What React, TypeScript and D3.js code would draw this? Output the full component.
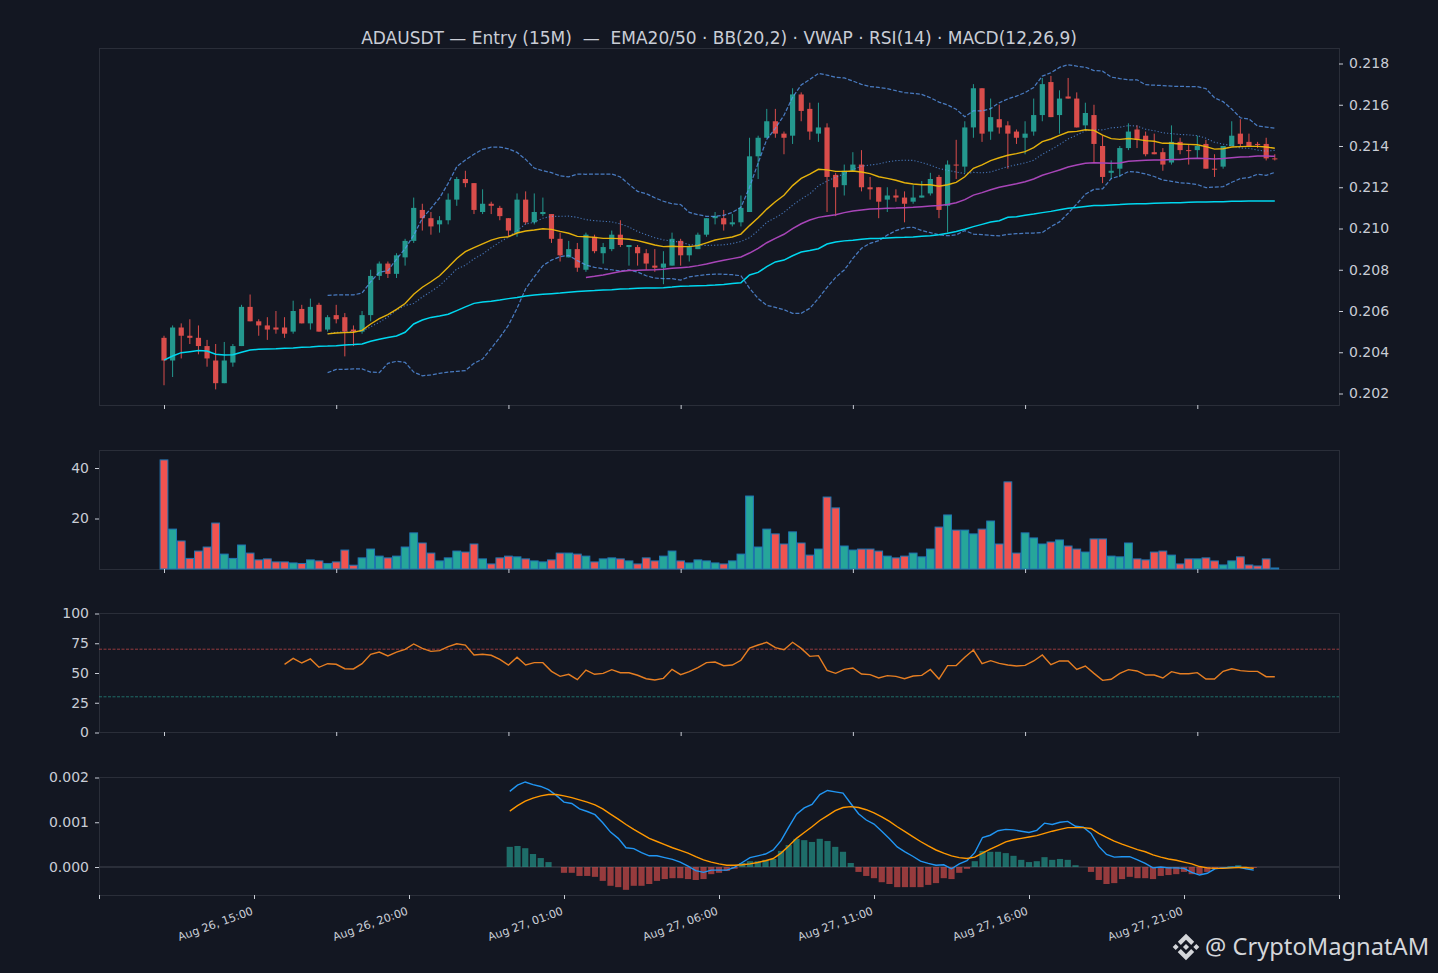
import { useEffect, useRef } from "react"
import * as d3 from "d3"

const tick = 1e-4

// OHLC in 0.0001 price ticks
const opens = [2047,2036,2052,2048,2047,2043,2036,2025,2035,2043,2062,2055,2053,2052,2052,2050,2061,2054,2063,2051,2058,2057,2051,2050,2058,2077,2083,2078,2086,2094,2109,2105,2102,2104,2114,2124,2122,2108,2112,2110,2105,2098,2114,2103,2107,2107,2095,2086,2090,2080,2096,2088,2090,2097,2091,2091,2088,2082,2081,2082,2094,2087,2090,2097,2105,2105,2102,2103,2108,2135,2144,2152,2146,2145,2165,2158,2146,2149,2126,2121,2128,2131,2120,2120,2114,2116,2115,2113,2115,2117,2125,2111,2131,2130,2149,2168,2147,2153,2150,2147,2144,2147,2155,2171,2155,2164,2163,2150,2155,2140,2127,2129,2139,2148,2145,2137,2137,2132,2142,2138,2138,2141,2129,2130,2140,2146,2142,2141,2141,2134]
const closes = [2036,2052,2048,2047,2043,2037,2025,2036,2043,2062,2055,2053,2051,2051,2049,2060,2054,2062,2050,2057,2056,2050,2050,2058,2077,2083,2078,2087,2094,2110,2105,2101,2104,2114,2124,2122,2109,2112,2111,2106,2099,2114,2103,2108,2108,2095,2087,2090,2081,2097,2089,2091,2097,2092,2092,2088,2083,2081,2083,2095,2087,2091,2097,2105,2106,2102,2103,2110,2135,2144,2152,2146,2144,2165,2157,2147,2149,2125,2120,2128,2131,2120,2119,2113,2116,2115,2112,2115,2116,2124,2109,2131,2131,2149,2168,2146,2154,2149,2146,2144,2146,2155,2170,2154,2163,2163,2149,2156,2141,2125,2128,2139,2147,2143,2136,2136,2131,2142,2138,2138,2140,2129,2129,2140,2145,2141,2140,2141,2134,2134]
const highs = [2048,2053,2054,2056,2053,2046,2044,2045,2044,2063,2068,2056,2057,2060,2057,2065,2063,2066,2064,2058,2063,2059,2053,2060,2080,2084,2084,2088,2095,2115,2112,2108,2106,2117,2125,2128,2122,2119,2113,2111,2105,2117,2118,2117,2115,2107,2098,2094,2093,2098,2097,2093,2099,2104,2092,2092,2090,2090,2089,2098,2095,2092,2098,2105,2108,2109,2107,2116,2144,2145,2158,2158,2147,2168,2166,2161,2161,2151,2127,2131,2137,2138,2125,2120,2120,2119,2118,2121,2123,2127,2126,2133,2143,2152,2170,2168,2163,2160,2152,2148,2152,2163,2173,2174,2167,2173,2166,2161,2160,2145,2133,2140,2151,2150,2147,2146,2139,2150,2144,2141,2145,2143,2136,2140,2152,2153,2146,2142,2144,2136]
const lows = [2024,2028,2037,2044,2039,2033,2022,2025,2033,2043,2055,2048,2046,2049,2047,2049,2054,2051,2050,2050,2054,2038,2043,2049,2055,2075,2076,2076,2082,2093,2099,2097,2098,2102,2111,2120,2107,2107,2107,2104,2096,2096,2102,2102,2106,2093,2084,2086,2079,2079,2088,2083,2089,2091,2082,2082,2080,2079,2073,2082,2082,2084,2090,2096,2102,2099,2101,2101,2108,2124,2144,2144,2136,2141,2152,2143,2142,2108,2106,2116,2128,2118,2114,2105,2108,2113,2103,2112,2115,2116,2105,2098,2124,2127,2144,2142,2143,2146,2129,2141,2136,2145,2152,2154,2146,2163,2149,2148,2132,2122,2124,2125,2138,2139,2135,2136,2128,2131,2136,2131,2134,2129,2125,2129,2140,2140,2140,2139,2133,2133]

const vwap = [2036.2,2038.2,2039.8,2040.3,2040.8,2040.6,2039,2038.7,2038.8,2040,2041.1,2041.4,2041.6,2041.7,2041.9,2042.1,2042.4,2042.5,2042.9,2043,2043.2,2043.5,2043.7,2044,2045.3,2046.3,2047.1,2047.9,2049.7,2053.7,2055.6,2056.9,2057.6,2058.4,2060.2,2062,2063.7,2064.4,2064.7,2065.3,2066,2066.6,2067.3,2067.8,2068.1,2068.4,2068.7,2069.1,2069.4,2069.7,2069.9,2070.2,2070.3,2070.7,2070.8,2071,2071.2,2071.2,2071.3,2071.6,2072,2072.1,2072.3,2072.4,2072.6,2072.9,2073.3,2073.7,2077.5,2078.7,2081.5,2083.8,2084.7,2086.8,2088.6,2089.3,2090.2,2092.5,2093.5,2094,2094.3,2094.8,2095.1,2095.2,2095.4,2095.6,2095.7,2095.9,2096.2,2096.5,2097,2097.7,2098.5,2099.6,2100.9,2102,2103.1,2103.8,2105.4,2105.7,2106.4,2107,2107.7,2108.3,2109.1,2109.8,2110.2,2110.7,2111.1,2111.2,2111.4,2111.6,2111.9,2112,2112,2112.2,2112.4,2112.5,2112.5,2112.7,2112.8,2112.8,2113,2113,2113.2,2113.2,2113.3,2113.3,2113.3,2113.3]

// these start at candle 19
const ema20 = [2048.9,2049.3,2049.5,2049.7,2050.6,2053.7,2056.3,2058.2,2060.8,2063.6,2068.1,2071.5,2074.2,2077.1,2081.2,2085.5,2088.8,2090.7,2092.6,2094.4,2095.6,2096,2097.8,2098.8,2099.3,2099.9,2099.6,2098.6,2097.7,2096.2,2096,2095.7,2095.2,2095.2,2095.1,2094.8,2094.1,2093.1,2092,2091.2,2091.4,2091.2,2091.2,2091.7,2093,2094.4,2095.2,2095.9,2097.3,2101.4,2105.2,2109.4,2113,2116.1,2120.8,2124.3,2126.4,2128.7,2128.4,2127.7,2127.7,2127.9,2127.4,2126.6,2125.1,2124.3,2123.4,2122.2,2121.6,2121.2,2121.2,2120.5,2121.2,2122.4,2125.1,2129.2,2130.8,2132.9,2134.3,2135.5,2136.3,2137.3,2139.2,2142.1,2143.4,2145.2,2146.8,2147.1,2147.9,2147.6,2145.3,2143.6,2143.2,2143.6,2143.2,2142.6,2142.3,2141.3,2141.3,2141,2140.8,2140.6,2139.7,2138.5,2138.7,2139.5,2139.7,2139.8,2139.8,2139.5,2138.9]
const bbUpper = [2067.6,2067.8,2067.8,2067.8,2068.7,2074.2,2078.8,2079.6,2085.1,2090.2,2096.8,2104.9,2109.8,2114.8,2121.9,2130,2133.2,2136,2138.4,2139.4,2139.5,2138.6,2136.9,2133.5,2129.3,2128,2127.1,2125.5,2125,2126.4,2126.3,2126.4,2126.4,2126.4,2125,2121.4,2118,2116.9,2114.9,2113.2,2112,2111.6,2107.8,2106.7,2105.9,2105.9,2106.4,2107.8,2110.3,2120,2131.8,2143.2,2148.6,2154.9,2163.6,2169.6,2172.3,2175.2,2174.4,2173.3,2173,2171.5,2169.9,2168.8,2168.4,2167.8,2166.8,2165.9,2165.5,2165,2163.4,2161.3,2159.9,2157.8,2154.2,2157.1,2157,2158.1,2161,2162.8,2164.2,2165.9,2168.4,2173.9,2175.5,2178.1,2179.4,2178.7,2178.2,2176.6,2176.3,2173.4,2172.7,2172.1,2172.1,2169.7,2169.5,2169.3,2169,2168.9,2168.8,2168.8,2167.8,2163.4,2161.5,2157.9,2153.7,2153.1,2149.7,2149.2,2148.6]
const bbMid = [2048.9,2049.7,2049.8,2049.9,2050.3,2052.3,2054.5,2057.1,2060.4,2062.7,2063.6,2066.8,2069.4,2072.3,2076.2,2080.4,2082.2,2085.3,2087.6,2090.7,2093.4,2095.9,2099,2102.2,2103,2105,2105.9,2105.9,2106,2105.4,2104.3,2103.8,2103.5,2103.2,2102.2,2100.7,2098.5,2097,2095.5,2094.5,2093.9,2093.3,2092.2,2091.9,2091.8,2091.9,2092.1,2092.7,2093.7,2095.5,2099,2103,2105.2,2107.8,2111.3,2114.3,2116.8,2120.7,2123,2124.8,2126.5,2128.5,2130.2,2130.8,2131.3,2132.3,2132.9,2133.1,2133,2132,2130.7,2129.1,2128.2,2127.4,2126.6,2127.2,2127,2127.4,2128.7,2130,2130.9,2131.8,2133.1,2136,2138.2,2140.7,2143.4,2145.3,2147.4,2147.8,2147.8,2148.8,2149.1,2149.9,2149.7,2148.1,2147.4,2146.4,2146,2145.6,2145.4,2145,2143.8,2141.8,2140.9,2140.2,2139,2138.9,2138,2137.5,2137.9]
const bbLower = [2030.1,2031.7,2031.7,2031.9,2031.9,2030.4,2030.1,2034.6,2035.6,2035.1,2030.4,2028.6,2029,2029.8,2030.4,2030.7,2031.1,2034.6,2036.7,2041.9,2047.2,2053.1,2061.3,2070.8,2076.6,2082,2084.7,2086.3,2087,2084.4,2082.3,2081.2,2080.5,2080,2079.4,2079.9,2078.9,2077.1,2076,2075.7,2075.7,2075,2076.6,2077.1,2077.6,2077.9,2077.8,2077.6,2077.1,2071,2066.1,2062.7,2061.8,2060.6,2058.9,2058.9,2061.3,2066.1,2071.5,2076.3,2079.9,2085.5,2090.4,2092.8,2094.1,2096.8,2099,2100.3,2100.6,2099,2098,2096.9,2096.5,2096.9,2099,2097.3,2097,2096.7,2096.4,2097.2,2097.5,2097.7,2097.8,2098,2100.9,2103.2,2107.4,2111.9,2116.6,2119,2119.2,2124.2,2125.5,2127.6,2127.3,2126.5,2125.2,2123.5,2122.9,2122.2,2121.9,2121.3,2119.8,2120.1,2120.3,2122.4,2124.2,2124.7,2126.3,2125.8,2127.2]
const overlayStart = 19

// starts at candle 49
const ema50 = [2076.3,2076.8,2077.5,2078.3,2079.1,2079.6,2079.7,2079.9,2080,2080.2,2080.7,2081,2081.3,2082,2082.8,2083.8,2084.6,2085.4,2086.2,2088.1,2090.4,2093.1,2095.2,2097.2,2099.9,2102.3,2104.1,2105.4,2106.1,2106.7,2107.7,2108.5,2109,2109.4,2109.6,2109.8,2109.9,2110.1,2110.3,2110.6,2110.9,2111.1,2111.6,2112.5,2114,2116.2,2117.4,2118.8,2120,2120.9,2121.7,2122.7,2124,2125.8,2127.1,2128.4,2129.8,2130.8,2131.6,2131.9,2131.8,2131.6,2131.8,2132.6,2132.9,2133.1,2133.2,2133.2,2133.4,2133.5,2133.9,2134,2133.9,2133.7,2133.9,2134.3,2134.7,2134.8,2135.1,2135.1,2135]
const ema50Start = 49

const volumes = [43.2,15.8,11.1,4.2,7.1,8.7,18.2,5.9,4.2,9.5,6.3,3.6,4,2.8,2.8,2.4,2.2,3.6,3.2,2.2,2.8,7.5,1.5,4.4,7.9,5.1,4.4,5.1,8.7,14.3,10.3,6.3,3.2,4.4,7.1,6.7,9.9,4,2,4.4,5.1,4.8,4,3.2,2.8,3.6,6.3,6.3,5.9,5.1,2.8,4,4.4,4,3.2,2,4.4,3.2,5.1,7.1,3.2,2.4,3.6,3.2,2.4,2,3.2,5.9,28.9,8.7,15.8,13.9,9.9,14.7,10.3,5.5,7.9,28.5,24.2,9.1,7.5,7.9,7.9,7.1,5.1,4.4,5.1,6.3,4.8,7.9,16.6,21.4,15.4,15.4,13.9,15.8,19,9.9,34.5,6.3,14.3,12.3,9.9,10.7,11.5,9.1,7.9,6.7,11.9,11.9,5.1,4.8,10.3,4,3.6,6.7,7.1,5.5,2,4,4,4.4,3.2,1.6,3.2,4.8,1.6,1.2,4,0.4]

// starts at candle 14
const rsi = [57.3,62.3,58.4,61.8,54.8,57.8,57.3,53.6,53.4,57.8,65.7,67.6,64.3,67.6,69.9,74.4,70.7,68.2,68.8,72.1,74.6,73.5,65.1,65.7,64.9,61.5,56.7,63.2,56.7,58.7,58.7,51.4,47.2,48.9,44.4,52.5,48.9,49.7,52.8,50.2,50.2,48.1,45.2,44.1,45.5,53.1,48.6,51.1,54.5,58.7,59.2,56.1,56.7,60.7,71,73.5,75.8,71.3,69.6,75.8,70.7,64,64.6,52.2,49.7,53,54.2,49.2,48.6,45.8,47.8,47.2,45.2,47.5,48,53,44.9,56.2,56.2,63.2,69.3,57.8,60.4,58.1,56.7,55.9,56.4,60.1,65.1,57,60.1,60.1,53,55.9,49.7,43.8,44.7,49.7,52.8,51.7,48.3,48.3,45.8,51.1,49.4,49.4,50.3,44.9,44.9,51.4,53.6,52,51.4,51.4,46.9,46.9]
const rsiStart = 14
const rsiLevels = [70, 30]

// MACD values in 0.0001, all start at candle 33
const macdLine = [16.9,18.3,19,18.4,18,17.3,16,14.5,14.2,13,12.4,11.7,9.9,7.8,6.4,4.3,4.1,3.2,2.5,2.5,2.1,1.7,1.1,0.2,-0.8,-1.2,-0.7,-0.7,-0.7,-0.1,1,2.1,2.5,2.9,3.8,5.9,8.9,11.8,13.2,14,16.2,17.1,16.8,16.5,14.2,11.9,10.5,9.6,8,6.3,4.5,3.4,2.4,1.3,0.8,0.4,0.5,-0.4,0.7,1.4,3.2,6.6,7.1,8.1,8.4,8.3,8,7.7,8.2,9.8,9.5,10,10.2,9.1,8.9,7.5,4.6,2.8,2.2,2.3,2.3,1.6,0.8,-0.2,0,-0.2,-0.2,-0.3,-1.2,-1.8,-1.4,-0.4,-0.2,-0.1,0,-0.4,-0.7]
const macdSignal = [12.5,13.7,14.7,15.4,15.9,16.2,16.2,15.9,15.5,15,14.5,13.9,13,11.8,10.7,9.5,8.4,7.4,6.4,5.7,5,4.3,3.7,3.1,2.3,1.6,1.1,0.7,0.4,0.4,0.5,0.7,1,1.4,1.9,3.1,4.7,6.4,7.7,9,10.4,11.5,12.6,13.3,13.5,13.3,12.8,12.1,11.2,10.2,9,7.9,6.8,5.7,4.7,3.8,3.1,2.5,2.1,1.9,2.2,3.1,4,4.8,5.6,6.1,6.4,6.7,7,7.5,8,8.4,8.8,8.8,8.8,8.6,7.5,6.6,5.8,5.1,4.5,3.9,3.4,2.7,2.2,1.8,1.5,1.1,0.7,0.1,-0.2,-0.3,-0.3,-0.2,-0.1,-0.1,-0.3]
const macdHist = [4.5,4.7,4.2,2.9,2,1.1,0,-1.3,-1.3,-2,-2,-2.2,-3.1,-4.2,-4.5,-5.1,-4.2,-4.2,-3.8,-3.1,-2.7,-2.5,-2.5,-2.7,-2.9,-2.7,-1.6,-1.3,-0.9,-0.4,0.9,1.3,1.3,1.6,1.8,3.6,4.9,6.3,6,5.6,6.3,5.8,4.5,3.4,0.9,-1.1,-2,-2.5,-3.4,-3.8,-4.5,-4.5,-4.5,-4.5,-4,-3.6,-2.5,-2.7,-1.3,-0.4,1.3,3.6,3.4,3.4,3.1,2.5,1.6,1.1,1.3,2.2,1.6,1.8,1.6,0.4,0,-1.1,-2.9,-3.8,-3.6,-2.7,-2.2,-2.5,-2.5,-2.7,-2,-1.8,-1.6,-1.1,-1.6,-1.6,-1.1,-0.4,-0.2,0.15,0.4,0,-0.2]
const macdStart = 33

const tickIndexes = [0, 20, 40, 60, 80, 100, 120]
const tickLabels = ["Aug 26, 15:00", "Aug 26, 20:00", "Aug 27, 01:00", "Aug 27, 06:00", "Aug 27, 11:00", "Aug 27, 16:00", "Aug 27, 21:00"]
const priceTicks = [0.202, 0.204, 0.206, 0.208, 0.21, 0.212, 0.214, 0.216, 0.218]
const volumeTicks = [20, 40]
const rsiTicks = [0, 25, 50, 75, 100]
const macdTicks = [0, 0.001, 0.002]

const BG = "#131722"
const GRID = "#2a2e39"
const TEXT = "#c9cdd6"
const GREEN = "#26a69a"
const RED = "#ef5350"
const FONT = "'DejaVu Sans', sans-serif"

// panels are laid out on the figure, candle scale is shared except for the MACD pane
const LEFT = 99
const RIGHT = 1339
const x = d3.scaleLinear().domain([0, 120]).range([164, 1197.3])
const macdX = d3.scaleLinear().domain([-20, 140]).range([LEFT, RIGHT])

const priceY = d3.scaleLinear().domain([0.202, 0.218]).range([393.5, 63.5])
const volumeY = d3.scaleLinear().domain([0, 40]).range([569, 468])
const rsiY = d3.scaleLinear().domain([0, 100]).range([732.5, 613.5])
const macdY = d3.scaleLinear().domain([0, 0.002]).range([867, 777.5])

const panels = [
  { top: 48, bottom: 405 },
  { top: 450, bottom: 569 },
  { top: 613, bottom: 732 },
  { top: 777, bottom: 895 },
]

const seriesLine = (values: number[], start: number, y: (v: number) => number, xs = x) =>
  d3.line<number>()
    .x((_, i) => xs(i + start))
    .y((d) => y(d))(values) || ""

const toPrice = (v: number) => priceY(v * tick)
const toMacd = (v: number) => macdY(v * tick)

function YAxis({ scale, ticks, format, at, right }: { scale: any; ticks: number[]; format: string; at: number; right?: boolean }) {
  const ref = useRef<SVGGElement>(null)
  useEffect(() => {
    const axis = (right ? d3.axisRight(scale) : d3.axisLeft(scale))
      .tickValues(ticks)
      .tickSize(4)
      .tickPadding(6)
      .tickFormat(d3.format(format) as any)
    const g = d3.select(ref.current!)
    g.call(axis as any)
    g.select(".domain").remove()
    g.selectAll("line").attr("stroke", TEXT)
    g.selectAll("text").attr("fill", TEXT).style("font-family", FONT).style("font-size", "14px")
  }, [])
  return <g ref={ref} transform={`translate(${at},0)`} />
}

function XTicks({ scale, values, y }: { scale: any; values: number[]; y: number }) {
  const ref = useRef<SVGGElement>(null)
  useEffect(() => {
    const g = d3.select(ref.current!)
    g.call(d3.axisBottom(scale).tickValues(values).tickSize(4).tickFormat(() => "") as any)
    g.select(".domain").remove()
    g.selectAll("line").attr("stroke", TEXT)
  }, [])
  return <g ref={ref} transform={`translate(0,${y})`} />
}

export default function App() {
  return (
    <svg width={1438} height={973} style={{ position: "absolute", left: 0, top: 0, background: BG }}>
      <rect width={1438} height={973} fill={BG} />

      <text x={719} y={43.5} textAnchor="middle" fill={TEXT} fontFamily={FONT} fontSize={17} style={{ whiteSpace: "pre" }}>
        {"ADAUSDT — Entry (15M)  —  EMA20/50 · BB(20,2) · VWAP · RSI(14) · MACD(12,26,9)"}
      </text>

      {panels.map((p) => (
        <rect key={p.top} x={LEFT + 0.5} y={p.top + 0.5} width={RIGHT - LEFT} height={p.bottom - p.top} fill={BG} stroke={GRID} />
      ))}

      {/* candles */}
      <g>
        {opens.map((o, i) => {
          const color = closes[i] > o ? GREEN : RED
          const top = toPrice(Math.max(o, closes[i]))
          const bottom = toPrice(Math.min(o, closes[i]))
          return (
            <g key={i} opacity={0.9}>
              <line x1={x(i)} x2={x(i)} y1={toPrice(highs[i])} y2={toPrice(lows[i])} stroke={color} strokeWidth={1} />
              <rect x={x(i) - 2.6} width={5.2} y={top} height={Math.max(bottom - top, 1)} fill={color} />
            </g>
          )
        })}
      </g>

      <path d={seriesLine(bbUpper, overlayStart, toPrice)} fill="none" stroke="#5b9cf5" strokeOpacity={0.75} strokeWidth={1.25} strokeDasharray="4 1.8" />
      <path d={seriesLine(bbLower, overlayStart, toPrice)} fill="none" stroke="#5b9cf5" strokeOpacity={0.75} strokeWidth={1.25} strokeDasharray="4 1.8" />
      <path d={seriesLine(bbMid, overlayStart, toPrice)} fill="none" stroke="#5b9cf5" strokeOpacity={0.7} strokeWidth={1.1} strokeDasharray="1.2 2" />
      <path d={seriesLine(ema20, overlayStart, toPrice)} fill="none" stroke="#f0b90b" strokeOpacity={0.95} strokeWidth={1.4} />
      <path d={seriesLine(ema50, ema50Start, toPrice)} fill="none" stroke="#a845b8" strokeWidth={1.5} />
      <path d={seriesLine(vwap, 0, toPrice)} fill="none" stroke="#00d8f0" strokeWidth={1.5} />

      {/* volume */}
      <g>
        {volumes.map((v, i) => (
          <rect
            key={i}
            x={x(i) - 3.9}
            width={7.8}
            y={volumeY(v)}
            height={volumeY(0) - volumeY(v)}
            fill={closes[i] > opens[i] ? GREEN : RED}
            stroke="#1f77b4"
            strokeWidth={1}
          />
        ))}
      </g>

      {/* RSI */}
      {rsiLevels.map((level) => (
        <line
          key={level}
          x1={LEFT}
          x2={RIGHT}
          y1={rsiY(level)}
          y2={rsiY(level)}
          stroke={level === 70 ? RED : GREEN}
          strokeOpacity={0.6}
          strokeWidth={1}
          strokeDasharray="3 1.5"
        />
      ))}
      <path d={seriesLine(rsi, rsiStart, rsiY)} fill="none" stroke="#e67e22" strokeWidth={1.4} />

      {/* MACD */}
      <line x1={LEFT} x2={RIGHT} y1={macdY(0)} y2={macdY(0)} stroke="#434651" strokeWidth={1} />
      <g>
        {macdHist.map((v, i) => {
          const y0 = toMacd(0)
          const y1 = toMacd(v)
          return (
            <rect
              key={i}
              x={macdX(i + macdStart) - 3.1}
              width={6.2}
              y={Math.min(y0, y1)}
              height={Math.abs(y1 - y0)}
              fill={v >= 0 ? GREEN : RED}
              fillOpacity={0.6}
            />
          )
        })}
      </g>
      <path d={seriesLine(macdLine, macdStart, toMacd, macdX)} fill="none" stroke="#2196f3" strokeWidth={1.4} />
      <path d={seriesLine(macdSignal, macdStart, toMacd, macdX)} fill="none" stroke="#ff9800" strokeWidth={1.4} />

      <YAxis scale={priceY} ticks={priceTicks} format=".3f" at={RIGHT} right />
      <YAxis scale={volumeY} ticks={volumeTicks} format="d" at={LEFT} />
      <YAxis scale={rsiY} ticks={rsiTicks} format="d" at={LEFT} />
      <YAxis scale={macdY} ticks={macdTicks} format=".3f" at={LEFT} />

      <XTicks scale={x} values={tickIndexes} y={405} />
      <XTicks scale={x} values={tickIndexes} y={569} />
      <XTicks scale={x} values={tickIndexes} y={732} />
      <XTicks scale={macdX} values={[-20, ...tickIndexes, 140]} y={895} />

      {tickLabels.map((label, i) => (
        <text
          key={label}
          transform={`translate(${macdX(tickIndexes[i]) - 3},906.5) rotate(-20)`}
          textAnchor="end"
          dy="0.72em"
          fill={TEXT}
          fontFamily={FONT}
          fontSize={11.2}
        >
          {label}
        </text>
      ))}

      {/* watermark */}
      <g transform="translate(1186,947) scale(1.33) translate(-16,-16)" fill="#d4d6da">
        <path d="M12.116 14.404L16 10.52l3.886 3.886 2.26-2.26L16 6l-6.144 6.144 2.26 2.26zM6 16l2.26-2.26L10.52 16l-2.26 2.26L6 16zm6.116 1.596L16 21.48l3.886-3.886 2.26 2.259L16 26l-6.144-6.144-.003-.003 2.263-2.257zM21.48 16l2.26-2.26L26 16l-2.26 2.26L21.48 16zm-3.188-.002h.002V16L16 18.294l-2.291-2.29-.004-.004.004-.003.401-.402.195-.195L16 13.706l2.293 2.293z" />
      </g>
      <text x={1205} y={955} fill="#d4d6da" fontFamily="'Noto Sans', sans-serif" fontSize={23.7}>
        @ CryptoMagnatAM
      </text>
    </svg>
  )
}
